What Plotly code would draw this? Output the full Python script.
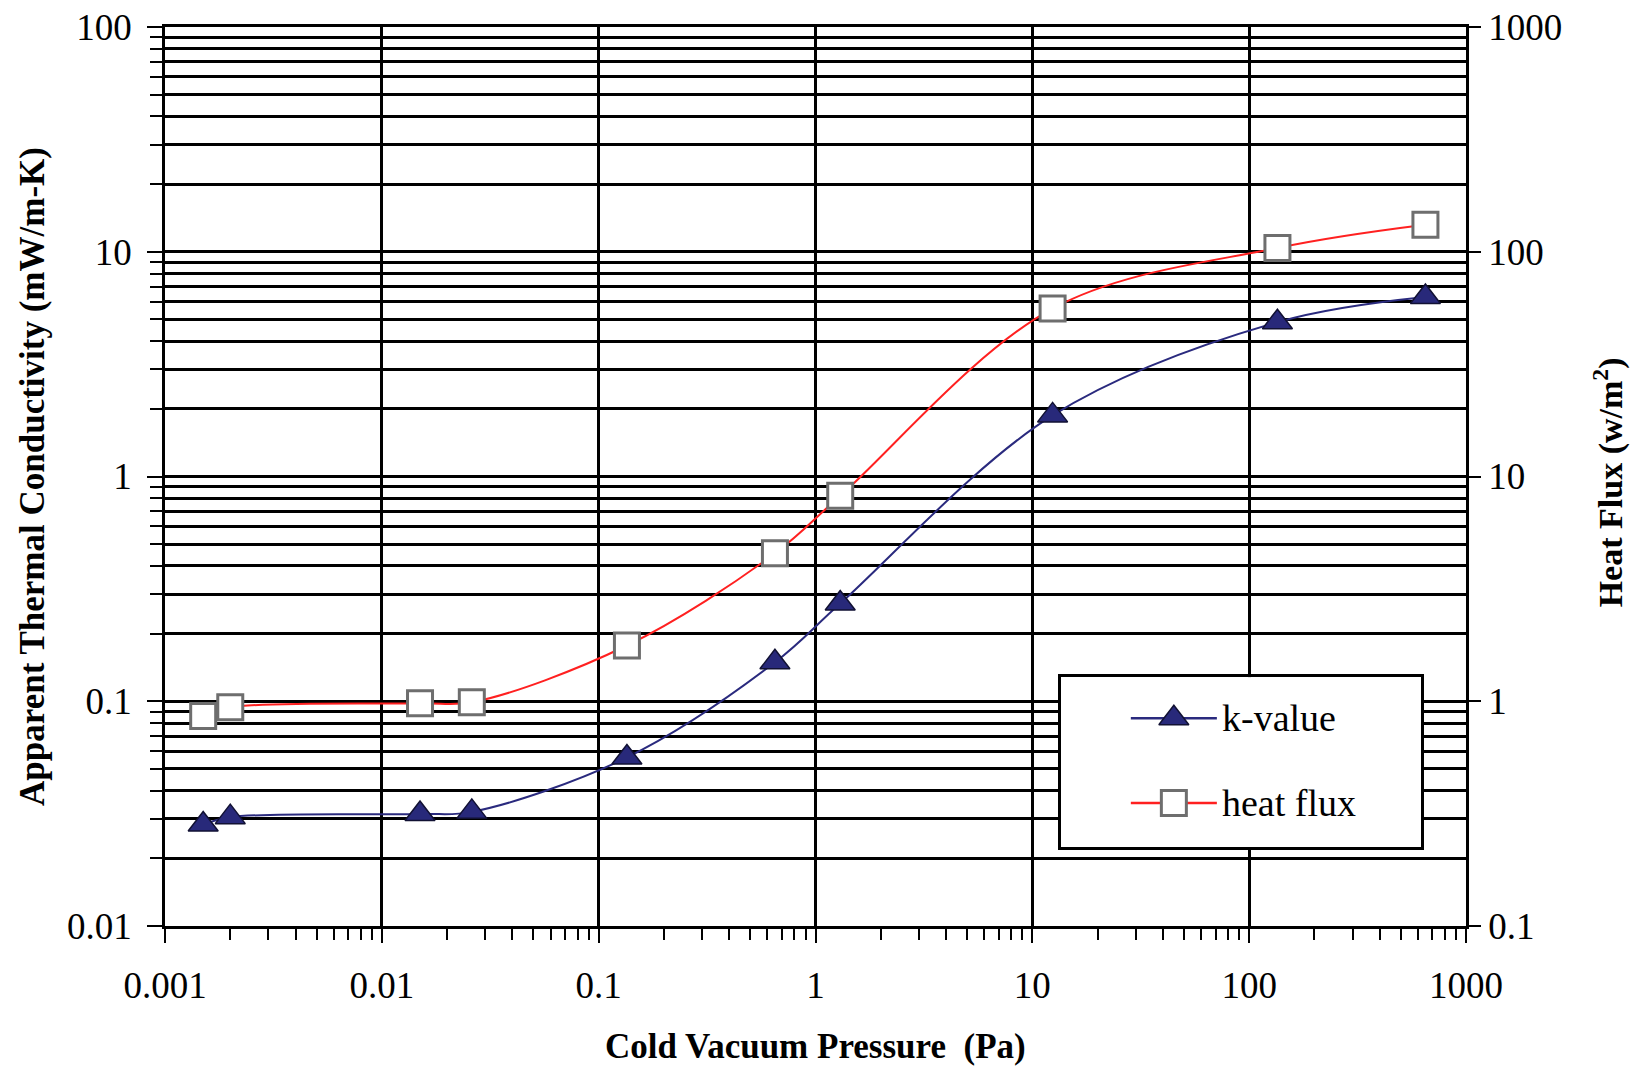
import plotly.graph_objects as go

pressure = [0.0015, 0.002, 0.015, 0.026, 0.135, 0.65, 1.3, 12.4, 135, 650]
k_value = [0.0283, 0.0305, 0.0315, 0.0322, 0.0562, 0.149, 0.272, 1.87, 4.86, 6.29]
heat_flux = [0.86, 0.94, 0.98, 0.99, 1.77, 4.55, 8.2, 55.9, 104, 132]

x_ticks = [0.001, 0.01, 0.1, 1, 10, 100, 1000]
x_ticktext = ["0.001", "0.01", "0.1", "1", "10", "100", "1000"]
y_ticks = [0.01, 0.1, 1, 10, 100]
y_ticktext = ["0.01", "0.1", "1", "10", "100"]
y2_ticks = [0.1, 1, 10, 100, 1000]
y2_ticktext = ["0.1", "1", "10", "100", "1000"]

series_names = ["k-value", "heat flux"]
x_title = "Cold Vacuum Pressure \u00a0(Pa)"
y_title = "Apparent Thermal Conductivity (mW/m-K)"
y2_title = "Heat Flux (w/m<sup>2</sup>)"

def minor_vals(lo_exp, hi_exp):
    return [m * 10 ** e for e in range(lo_exp, hi_exp) for m in range(2, 10)]

FONT = "Liberation Serif"
K_LINE = "#2A2A7E"
K_MARKER = dict(symbol="triangle-up", size=26, color="#28297A",
                line=dict(color="#111133", width=1.5))
H_LINE = "#FF2020"
H_MARKER = dict(symbol="square", size=25, color="white",
                line=dict(color="#6E6E6E", width=3))

fig = go.Figure()
fig.add_trace(go.Scatter(
    x=pressure, y=k_value, name=series_names[0], showlegend=False,
    mode="lines+markers",
    line=dict(color=K_LINE, width=2, shape="spline"),
    marker=K_MARKER, xaxis="x", yaxis="y",
))
fig.add_trace(go.Scatter(
    x=pressure, y=heat_flux, name=series_names[1], showlegend=False,
    mode="lines+markers",
    line=dict(color=H_LINE, width=2, shape="spline"),
    marker=H_MARKER, xaxis="x", yaxis="y2",
))

# legend box (own small axes so the samples can use full-size markers)
row_y = [0.759, 0.259]
line_x = [0.194, 0.433]
mark_x = [0.3135]
for name, lc, mk, ry in [(series_names[0], K_LINE, K_MARKER, row_y[0]),
                         (series_names[1], H_LINE, H_MARKER, row_y[1])]:
    fig.add_trace(go.Scatter(x=line_x, y=[ry, ry], mode="lines",
                             line=dict(color=lc, width=2.5), showlegend=False,
                             hoverinfo="skip", xaxis="x3", yaxis="y3", cliponaxis=False))
    fig.add_trace(go.Scatter(x=mark_x, y=[ry], mode="markers", marker=mk,
                             showlegend=False, hoverinfo="skip",
                             xaxis="x3", yaxis="y3", cliponaxis=False))

annotations = [
    dict(text=series_names[i], xref="x3", yref="y3", x=0.4417, y=row_y[i],
         xanchor="left", yanchor="middle", showarrow=False,
         font=dict(family=FONT, size=38, color="black"))
    for i in range(2)
]
annotations.append(dict(
    text=x_title, xref="paper", yref="paper", x=0.5, y=-0.1345,
    xanchor="center", yanchor="middle", showarrow=False,
    font=dict(family=FONT, size=35, color="black", weight="bold")))
annotations.append(dict(
    text=y2_title, xref="paper", yref="paper", x=1.1095, y=0.494,
    xanchor="center", yanchor="middle", showarrow=False, textangle=-90,
    font=dict(family=FONT, size=34, color="black", weight="bold")))

fig.update_layout(
    width=1633, height=1060,
    margin=dict(l=157, r=175, t=19, b=142),
    paper_bgcolor="white", plot_bgcolor="white",
    font=dict(family=FONT, size=37, color="black"),
    showlegend=False,
    annotations=annotations,
    xaxis=dict(
        type="log", range=[-3, 3], automargin=False,
        tickmode="array", tickvals=x_ticks, ticktext=x_ticktext,
        showgrid=True, gridcolor="black", gridwidth=2.5,
        showline=True, linecolor="black", linewidth=2.5, mirror=True,
        ticks="outside", ticklen=14, tickwidth=2, tickcolor="black",
        ticklabelstandoff=11, ticklabeloverflow="allow",
        minor=dict(tickmode="array", tickvals=minor_vals(-3, 3),
                   ticks="outside", ticklen=11, tickwidth=2,
                   tickcolor="black", showgrid=False),
        zeroline=False,
    ),
    yaxis=dict(
        type="log", range=[-2, 2], automargin=False,
        tickmode="array", tickvals=y_ticks, ticktext=y_ticktext,
        showgrid=True, gridcolor="black", gridwidth=2.5,
        showline=True, linecolor="black", linewidth=2.5,
        ticks="outside", ticklen=15, tickwidth=2, tickcolor="black",
        ticklabelstandoff=8, ticklabeloverflow="allow",
        minor=dict(tickmode="array", tickvals=minor_vals(-2, 2),
                   ticks="outside", ticklen=12, tickwidth=2,
                   tickcolor="black", showgrid=True,
                   gridcolor="black", gridwidth=2.5),
        title=dict(text=y_title,
                   font=dict(family=FONT, size=35, color="black", weight="bold"),
                   standoff=12),
        zeroline=False,
    ),
    yaxis2=dict(
        type="log", range=[-1, 3], overlaying="y", side="right", automargin=False,
        tickmode="array", tickvals=y2_ticks, ticktext=y2_ticktext,
        showgrid=False,
        showline=True, linecolor="black", linewidth=2.5,
        ticks="outside", ticklen=12, tickwidth=2, tickcolor="black",
        ticklabelstandoff=0, ticklabeloverflow="allow",
        zeroline=False,
    ),
    xaxis3=dict(domain=[0.6887, 0.9654], range=[0, 1], anchor="y3",
                showgrid=False, zeroline=False, showticklabels=False, ticks="",
                showline=True, mirror=True, linecolor="black", linewidth=3,
                fixedrange=True, automargin=False),
    yaxis3=dict(domain=[0.0878, 0.2767], range=[0, 1], anchor="x3",
                showgrid=False, zeroline=False, showticklabels=False, ticks="",
                showline=True, mirror=True, linecolor="black", linewidth=3,
                fixedrange=True, automargin=False),
    shapes=[dict(
        type="rect", xref="x3", yref="y3", x0=0, x1=1, y0=0, y1=1,
        line=dict(width=0), fillcolor="white", layer="below",
    )],
)

fig.write_html("out.html")
